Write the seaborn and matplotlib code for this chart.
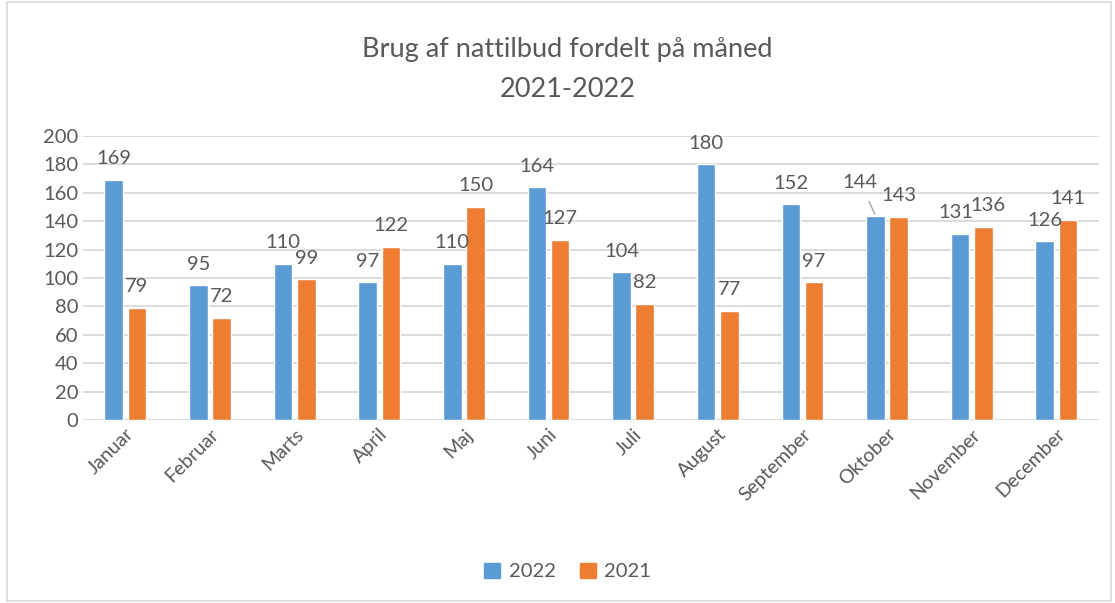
import numpy as np
import pandas as pd
import matplotlib.pyplot as plt
import seaborn as sns
from matplotlib.patches import Rectangle

months = ['Januar', 'Februar', 'Marts', 'April', 'Maj', 'Juni', 'Juli',
          'August', 'September', 'Oktober', 'November', 'December']
values_2022 = [169, 95, 110, 97, 110, 164, 104, 180, 152, 144, 131, 126]
values_2021 = [79, 72, 99, 122, 150, 127, 82, 77, 97, 143, 136, 141]
years = ['2022', '2021']

df = pd.DataFrame({
    'Måned': months * 2,
    'År': ['2022'] * len(months) + ['2021'] * len(months),
    'Antal': values_2022 + values_2021,
})

sns.set_theme(style='white')
plt.rcParams['font.family'] = ['Lato', 'DejaVu Sans']

text_color = '#595959'
grid_color = '#D9D9D9'
palette = {'2022': '#5B9BD5', '2021': '#ED7D31'}

fig = plt.figure(figsize=(11.15, 6.03), dpi=100)
ax = fig.add_axes([0.0744, 0.3035, 0.911, 0.471])

sns.barplot(data=df, x='Måned', y='Antal', hue='År', hue_order=years,
            palette=palette, width=0.55, gap=0.2, saturation=1,
            ax=ax, legend=True)

ax.set_ylim(0, 200)
ax.set_yticks(np.arange(0, 201, 20))
ax.yaxis.grid(True, color=grid_color, linewidth=1.3)
ax.set_axisbelow(True)
for s in ax.spines.values():
    s.set_visible(False)
ax.set_xlabel('')
ax.set_ylabel('')
ax.tick_params(axis='both', length=0, colors=text_color, labelsize=14.5)
ax.tick_params(axis='x', labelsize=14, pad=4)
plt.setp(ax.get_xticklabels(), rotation=45, ha='right', rotation_mode='anchor')

# small nudges for labels that crowd each other (November)
nudge = {(0, 10): -3, (1, 10): 3}

# data labels
for i, cont in enumerate(ax.containers):
    for j, bar in enumerate(cont):
        x = bar.get_x() + bar.get_width() / 2
        h = bar.get_height()
        if (i, j) == (0, 9):
            # Oktober 2022 label sits off to the side with a leader line
            ax.annotate(f'{h:.0f}', (x, h), xytext=(-11, 24), textcoords='offset points',
                        ha='center', va='center', fontsize=14.5, color=text_color,
                        arrowprops=dict(arrowstyle='-', color='#A6A6A6', lw=1,
                                        shrinkA=6, shrinkB=1))
            continue
        ax.annotate(f'{h:.0f}', (x, h), xytext=(nudge.get((i, j), 0), 9),
                    textcoords='offset points', ha='center', va='bottom',
                    fontsize=14.5, color=text_color)

ax.legend_.remove()
handles = [Rectangle((0, 0), 1, 1, color=palette[y]) for y in years]
fig.legend(handles, years, loc='center', bbox_to_anchor=(0.509, 0.052),
           ncol=2, frameon=False, fontsize=14.5, handlelength=0.8,
           handleheight=0.8, columnspacing=1.2, handletextpad=0.4,
           labelcolor=text_color)

fig.text(0.509, 0.938, 'Brug af nattilbud fordelt på måned\n2021-2022',
         ha='center', va='top', fontsize=19.5, color=text_color, linespacing=1.75)

fig.patches.append(Rectangle((0.006, 0.003), 0.99, 0.994, transform=fig.transFigure,
                             fill=False, edgecolor=grid_color, linewidth=1.2))

fig.savefig('out.png', dpi=100)
